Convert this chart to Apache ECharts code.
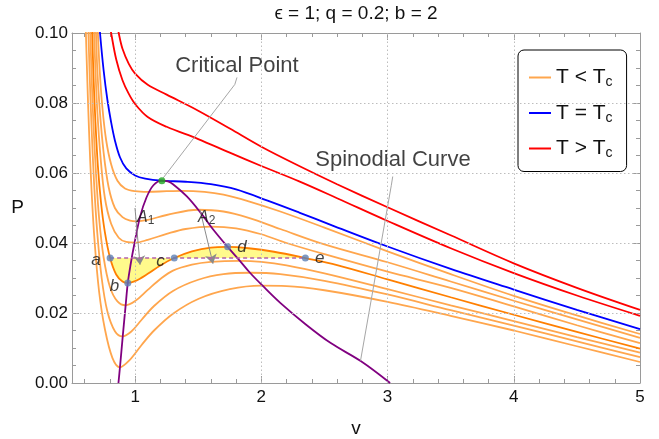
<!DOCTYPE html>
<html>
<head>
<meta charset="utf-8">
<script src="https://cdn.jsdelivr.net/npm/echarts@6/dist/echarts.min.js"></script>
<style>
  html, body { margin: 0; padding: 0; background: #fff; }
  #chart { width: 659px; height: 439px; }
</style>
</head>
<body>
<div id="chart"></div>
<script>
// Isotherms P(v) for epsilon = 1, q = 0.2, b = 2, sampled as [v, P] pairs.
const vMajorTicks = [1, 2, 3, 4, 5];
const vMinorTicks = [0.6, 0.8, 1.2, 1.4, 1.6, 1.8, 2.2, 2.4, 2.6, 2.8, 3.2, 3.4, 3.6, 3.8, 4.2, 4.4, 4.6, 4.8];

// T < Tc (from the warmest down)
const lowT1 = [[0.695,0.110],[0.705,0.100],[0.72,0.089],[0.74,0.079],[0.77,0.0695],[0.81,0.0625],[0.86,0.0578],[0.92,0.0556],[1.00,0.0548],[1.10,0.0546],[1.25,0.0548],[1.37,0.0549],[1.55,0.0546],[1.70,0.0538],[1.90,0.0519],[2.15,0.0490],[2.50,0.0444],[3.00,0.0376],[3.50,0.0311],[4.00,0.0249],[4.50,0.0193],[5.00,0.0140]];
const lowT2 = [[0.68,0.110],[0.69,0.100],[0.70,0.090],[0.72,0.078],[0.75,0.066],[0.79,0.0560],[0.84,0.0500],[0.90,0.0474],[0.96,0.0464],[1.01,0.0462],[1.10,0.0466],[1.25,0.0480],[1.50,0.0495],[1.70,0.0490],[1.90,0.0472],[2.15,0.0440],[2.50,0.0396],[3.00,0.0345],[3.50,0.0290],[4.00,0.0235],[4.50,0.0182],[5.00,0.0129]];
const lowT3 = [[0.665,0.110],[0.675,0.100],[0.685,0.090],[0.70,0.078],[0.725,0.065],[0.76,0.0530],[0.81,0.0455],[0.87,0.0415],[0.93,0.0403],[1.00,0.0401],[1.10,0.0409],[1.25,0.0426],[1.40,0.0440],[1.60,0.0447],[1.80,0.0442],[2.00,0.0425],[2.20,0.0400],[2.50,0.0368],[3.00,0.0318],[3.50,0.0272],[4.00,0.0219],[4.50,0.0165],[5.00,0.0114]];
const maxwellIso = [[0.65,0.110],[0.66,0.100],[0.67,0.088],[0.685,0.075],[0.705,0.062],[0.73,0.0515],[0.76,0.0432],[0.802,0.0357],[0.85,0.0310],[0.90,0.0290],[0.942,0.0286],[1.00,0.0291],[1.10,0.0312],[1.20,0.0336],[1.31,0.0357],[1.45,0.0376],[1.60,0.0387],[1.733,0.0389],[1.90,0.0385],[2.10,0.0375],[2.349,0.0357],[2.60,0.0337],[3.00,0.0296],[3.50,0.0245],[4.00,0.0195],[4.50,0.0146],[5.00,0.0098]];
const lowT5 = [[0.635,0.110],[0.645,0.100],[0.655,0.088],[0.67,0.074],[0.69,0.060],[0.715,0.047],[0.75,0.036],[0.80,0.0275],[0.86,0.0233],[0.925,0.0222],[1.00,0.0234],[1.10,0.0266],[1.20,0.0297],[1.30,0.0321],[1.45,0.0338],[1.60,0.0346],[1.83,0.0349],[2.00,0.0346],[2.20,0.0336],[2.50,0.0313],[3.00,0.0268],[3.50,0.0222],[4.00,0.0177],[4.50,0.0131],[5.00,0.0087]];
const lowT6 = [[0.62,0.110],[0.63,0.100],[0.64,0.088],[0.655,0.073],[0.675,0.057],[0.70,0.043],[0.735,0.030],[0.78,0.0205],[0.84,0.0148],[0.90,0.0133],[0.97,0.0147],[1.05,0.0180],[1.15,0.0220],[1.30,0.0263],[1.50,0.0295],[1.70,0.0311],[1.91,0.0315],[2.15,0.0311],[2.50,0.0292],[3.00,0.0253],[3.50,0.0208],[4.00,0.0164],[4.50,0.0119],[5.00,0.0074]];
const lowT7 = [[0.60,0.110],[0.61,0.100],[0.62,0.088],[0.635,0.072],[0.655,0.055],[0.68,0.040],[0.715,0.026],[0.76,0.0155],[0.82,0.0072],[0.88,0.0045],[0.95,0.0063],[1.05,0.0108],[1.15,0.0150],[1.30,0.0198],[1.50,0.0240],[1.75,0.0268],[2.00,0.0278],[2.20,0.0277],[2.50,0.0265],[3.00,0.0232],[3.50,0.0192],[4.00,0.0150],[4.50,0.0105],[5.00,0.0060]];

// T = Tc
const critIso = [[0.700,0.110],[0.722,0.100],[0.75,0.0895],[0.78,0.0810],[0.81,0.0745],[0.84,0.0693],[0.88,0.0645],[0.93,0.0613],[1.00,0.0593],[1.08,0.0584],[1.212,0.0578],[1.40,0.0575],[1.60,0.0568],[1.80,0.0553],[2.05,0.0521],[2.30,0.0487],[2.55,0.0452],[3.00,0.0390],[3.50,0.0326],[4.00,0.0267],[4.50,0.0209],[5.00,0.0154]];

// T > Tc
const highT1 = [[0.78,0.106],[0.81,0.100],[0.85,0.0925],[0.90,0.0865],[0.95,0.0826],[1.00,0.0797],[1.10,0.0760],[1.25,0.0732],[1.50,0.0697],[1.75,0.0658],[2.00,0.0620],[2.30,0.0576],[2.60,0.0528],[3.00,0.0463],[3.50,0.0385],[4.00,0.0314],[4.50,0.0250],[5.00,0.0192]];
const highT2 = [[0.85,0.104],[0.87,0.100],[0.90,0.0955],[0.95,0.0912],[1.00,0.0884],[1.10,0.0852],[1.25,0.0824],[1.50,0.0778],[1.75,0.0727],[2.00,0.0675],[2.30,0.0620],[2.60,0.0568],[3.00,0.0502],[3.50,0.0422],[4.00,0.0342],[4.50,0.0272],[5.00,0.0209]];

// Spinodal curve through the extrema of the isotherms
const spinodal = [[0.868,0],[0.88,0.0045],[0.902,0.0133],[0.925,0.0222],[0.942,0.0286],[0.965,0.0340],[0.99,0.0390],[1.04,0.0476],[1.09,0.0530],[1.145,0.0565],[1.212,0.0578],[1.26,0.0576],[1.30,0.0568],[1.41,0.0533],[1.52,0.0486],[1.62,0.0438],[1.733,0.0389],[1.83,0.0349],[1.91,0.0315],[2.01,0.0278],[2.15,0.0229],[2.35,0.0168],[2.55,0.0114],[2.79,0.0062],[3.02,0]];

// Maxwell construction on the dark isotherm
const maxwellP = 0.0357;
const maxwellLabels = ['a', 'b', 'c', 'd', 'e'];
const maxwellPoints = [[0.802,0.0357],[0.942,0.0286],[1.31,0.0357],[1.733,0.0389],[2.349,0.0357]];
const criticalPoint = [1.212, 0.0578];

// Annotation anchors [v, P]
const critLabelAt = [1.807, 0.0907];
const critLeader = [[1.807,0.0873],[1.79,0.0853],[1.223,0.0586]];
const spinLabelAt = [3.043, 0.0638];
const spinLeader = [[3.041,0.0590],[3.03,0.0565],[2.786,0.0064]];
const areaLabels = [{ text: '1', at: [1.015, 0.0472] }, { text: '2', at: [1.498, 0.0472] }];
const areaArrows = [[[0.999,0.0500],[1.039,0.0338]], [[1.514,0.0495],[1.617,0.0341]]];
const gridV = [1, 2, 3, 4];
const gridP = [0.02, 0.04, 0.06, 0.08];

const FONT = '"Liberation Sans", Arial, Helvetica, sans-serif';
const FRAME = '#9a9a9a';
const LIGHT_ORANGE = '#ffa64d';
const DARK_ORANGE = '#ff7f00';
const SMOOTH = 0.35;

const chart = echarts.init(document.getElementById('chart'), null, { renderer: 'canvas' });

function xAxis(position, ticks, len, withLine, withLabel) {
  return {
    type: 'value', min: 0.5, max: 5, position: position,
    axisLine: { show: withLine, onZero: false, lineStyle: { color: FRAME, width: 1 } },
    axisTick: { show: true, inside: true, length: len, customValues: ticks, lineStyle: { color: FRAME, width: 1 } },
    axisLabel: { show: withLabel, customValues: ticks, fontSize: 17, color: '#111', fontFamily: FONT, margin: 6 },
    splitLine: { show: false },
    name: withLabel ? 'v' : '', nameLocation: 'middle', nameGap: 36,
    nameTextStyle: { fontSize: 19, color: '#111', fontFamily: FONT }
  };
}
function yAxis(position, withLabel) {
  return {
    type: 'value', min: 0, max: 0.1, interval: 0.02, position: position,
    axisLine: { show: true, onZero: false, lineStyle: { color: FRAME, width: 1 } },
    axisTick: { show: true, inside: true, length: 7, lineStyle: { color: FRAME, width: 1 } },
    minorTick: { show: true, splitNumber: 4, length: 4, lineStyle: { color: FRAME, width: 1 } },
    axisLabel: { show: withLabel, formatter: v => v.toFixed(2), fontSize: 17, color: '#111', fontFamily: FONT, margin: 4 },
    splitLine: { show: false },
    name: withLabel ? 'P' : '', nameLocation: 'middle', nameRotate: 0, nameGap: 48,
    nameTextStyle: { fontSize: 19, color: '#111', fontFamily: FONT }
  };
}

function isotherm(name, data, color) {
  return {
    type: 'line', name: name, data: data, smooth: SMOOTH,
    symbol: 'none', clip: true, silent: true, z: 3,
    lineStyle: { color: color, width: 1.8 }, itemStyle: { color: color }
  };
}

const fillData = maxwellIso.filter(p => p[0] >= maxwellPoints[0][0] && p[0] <= maxwellPoints[4][0]);

const series = [
  // dotted grid
  {
    type: 'line', name: 'grid', data: [[0.5, 0]], symbol: 'none', silent: true, z: 1,
    lineStyle: { width: 0 },
    markLine: {
      silent: true, symbol: ['none', 'none'], label: { show: false },
      lineStyle: { type: [1.5, 2.5], color: '#bdbdbd', width: 1 },
      data: gridV.map(v => ({ xAxis: v })).concat(gridP.map(p => ({ yAxis: p })))
    }
  },
  // equal-area regions
  {
    type: 'line', name: 'areas', data: fillData, smooth: SMOOTH,
    symbol: 'none', silent: true, z: 2,
    lineStyle: { width: 0 },
    areaStyle: { origin: maxwellP, color: '#fffa8c', opacity: 1 }
  },
  isotherm('lt', lowT1, LIGHT_ORANGE),
  isotherm('lt', lowT2, LIGHT_ORANGE),
  isotherm('lt', lowT3, LIGHT_ORANGE),
  isotherm('lt', lowT5, LIGHT_ORANGE),
  isotherm('lt', lowT6, LIGHT_ORANGE),
  isotherm('lt', lowT7, LIGHT_ORANGE),
  isotherm('lt', maxwellIso, DARK_ORANGE),
  isotherm('eq', critIso, '#0000ff'),
  isotherm('gt', highT1, '#ff0000'),
  isotherm('gt', highT2, '#ff0000'),
  {
    type: 'line', name: 'spinodal', data: spinodal, smooth: SMOOTH,
    symbol: 'none', silent: true, z: 4, lineStyle: { color: '#800080', width: 1.8 }
  },
  {
    type: 'line', name: 'maxwell line', data: [[maxwellPoints[0][0], maxwellP], [maxwellPoints[4][0], maxwellP]],
    symbol: 'none', silent: true, z: 5, lineStyle: { color: '#b361a8', width: 1.5, type: [4, 3] }
  },
  {
    type: 'line', name: 'crit leader', data: critLeader, symbol: 'none', silent: true, z: 4,
    lineStyle: { color: '#a6a6a6', width: 1 }
  },
  {
    type: 'line', name: 'spin leader', data: spinLeader, symbol: 'none', silent: true, z: 4,
    lineStyle: { color: '#a6a6a6', width: 1 }
  },
  {
    type: 'line', name: 'area arrows', data: [[0.5, 0]], symbol: 'none', silent: true, z: 6,
    lineStyle: { width: 0 },
    markLine: {
      silent: true, symbol: ['none', 'arrow'], symbolSize: 9, label: { show: false },
      lineStyle: { type: 'solid', color: '#8a8a8a', width: 1 },
      data: areaArrows.map(seg => [{ coord: seg[0] }, { coord: seg[1] }])
    }
  },
  {
    type: 'scatter', name: 'states', z: 7, silent: true, symbolSize: 7,
    itemStyle: { color: '#5e81b5' },
    data: maxwellPoints.map((p, i) => {
      const side = (i === 3 || i === 4) ? 'right' : 'left';
      return {
        value: p, name: maxwellLabels[i],
        label: { show: true, position: side, distance: i === 1 ? 5 : 6, offset: [0, i === 0 ? 2 : (i === 1 || i === 2 ? 3 : 0)] }
      };
    }),
    label: { formatter: '{b}', fontSize: 17, fontStyle: 'italic', color: '#111', fontFamily: FONT }
  },
  {
    type: 'scatter', name: 'critical', z: 7, silent: true, symbolSize: 7,
    itemStyle: { color: '#1ea51e' }, data: [criticalPoint]
  },
  {
    type: 'scatter', name: 'notes', z: 8, silent: true, symbolSize: 0,
    data: [
      { value: critLabelAt, label: { show: true, formatter: 'Critical Point' } },
      { value: spinLabelAt, label: { show: true, formatter: 'Spinodial Curve' } }
    ],
    label: { position: 'inside', fontSize: 22, color: '#111', fontFamily: FONT }
  },
  {
    type: 'scatter', name: 'area names', z: 8, silent: true, symbolSize: 0,
    data: areaLabels.map(a => ({ value: a.at, label: { show: true, formatter: '{a|A}{s|' + a.text + '}' } })),
    label: {
      position: [0, 0], align: 'left', verticalAlign: 'middle', color: '#111', fontFamily: FONT,
      rich: {
        a: { fontSize: 16, fontStyle: 'italic', color: '#111', fontFamily: FONT, lineHeight: 18 },
        s: { fontSize: 12, color: '#111', fontFamily: FONT, verticalAlign: 'bottom', lineHeight: 9 }
      }
    }
  }
];

const legendText = { lt: ['T < T', 'c'], eq: ['T = T', 'c'], gt: ['T > T', 'c'] };

chart.setOption({
  animation: false,
  backgroundColor: '#fff',
  textStyle: { fontFamily: FONT },
  grid: { left: 72, top: 33, width: 568, height: 350, containLabel: false, outerBoundsMode: 'none' },
  xAxis: [
    xAxis('bottom', vMajorTicks, 7, true, true),
    xAxis('bottom', vMinorTicks, 4, false, false),
    xAxis('top', vMajorTicks, 7, true, false),
    xAxis('top', vMinorTicks, 4, false, false)
  ],
  yAxis: [yAxis('left', true), yAxis('right', false)],
  legend: {
    data: ['lt', 'eq', 'gt'], orient: 'vertical', left: 518, top: 50,
    padding: [17, 14, 11, 11], itemGap: 13, itemWidth: 22, itemHeight: 2, icon: 'rect',
    backgroundColor: '#fff', borderColor: '#000', borderWidth: 1, borderRadius: 6,
    selectedMode: false,
    formatter: name => '{t|' + legendText[name][0] + '}{s|' + legendText[name][1] + '}',
    textStyle: {
      color: '#111', fontFamily: FONT,
      rich: {
        t: { fontSize: 21, color: '#111', fontFamily: FONT, lineHeight: 24 },
        s: { fontSize: 14, color: '#111', fontFamily: FONT, verticalAlign: 'bottom', lineHeight: 10 }
      }
    }
  },
  graphic: [{
    type: 'text', x: 356, y: 14,
    style: { text: 'ϵ = 1; q = 0.2; b = 2', align: 'center', verticalAlign: 'middle', font: '19px ' + FONT, fill: '#111' }
  }],
  series: series
});
</script>
</body>
</html>
